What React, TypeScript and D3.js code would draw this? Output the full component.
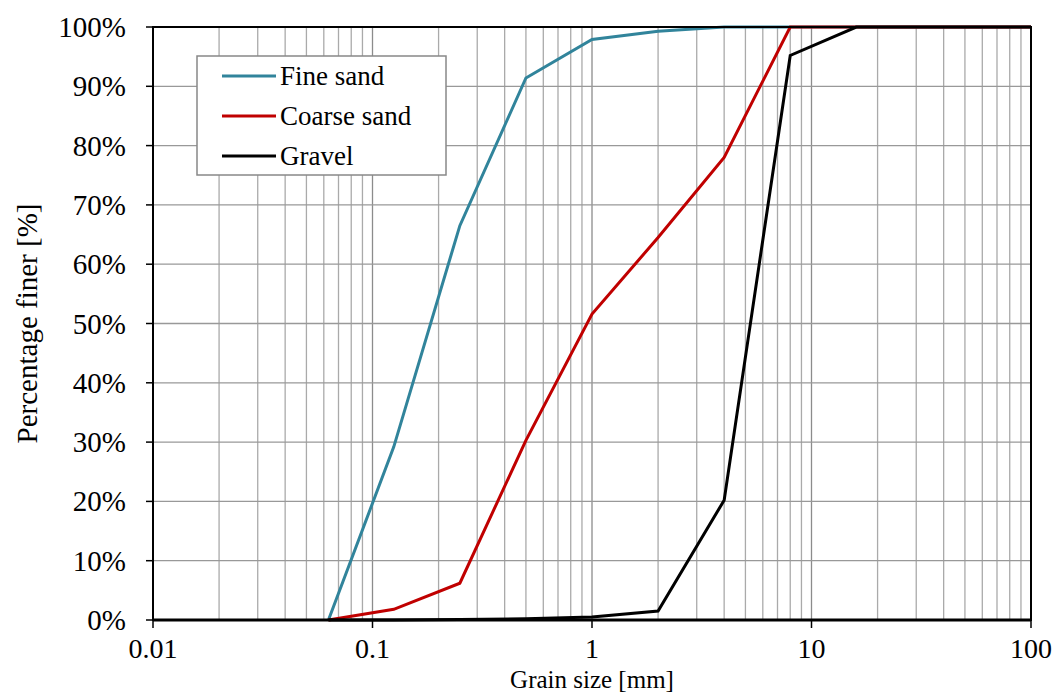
import React, { useEffect, useRef } from "react";
import * as d3 from "d3";

const sizes = [0.063, 0.125, 0.25, 0.5, 1, 2, 4, 8, 16, 31.5, 63, 100];
const fineSand = [0, 29.2, 66.5, 91.4, 97.9, 99.3, 100, 100, 100, 100, 100, 100];
const coarseSand = [0, 1.8, 6.2, 30.3, 51.6, 64.5, 78, 100, 100, 100, 100, 100];
const gravel = [0, 0, 0.1, 0.2, 0.5, 1.5, 20.2, 95.2, 100, 100, 100, 100];

const seriesNames = ["Fine sand", "Coarse sand", "Gravel"];
const seriesColors = ["#31849B", "#C00000", "#000000"];
const yTicks = [0, 10, 20, 30, 40, 50, 60, 70, 80, 90, 100];
const xTicks = [0.01, 0.1, 1, 10, 100];

const App = () => {
  const svgRef = useRef<SVGSVGElement>(null);

  useEffect(() => {
    const svg = d3.select(svgRef.current);
    svg.selectAll("*").remove();

    const width = 1059;
    const height = 695;
    const margin = { top: 27, right: 28, bottom: 75, left: 153 };
    const font = "Liberation Serif, Times New Roman, serif";

    const x = d3.scaleLog()
      .domain([0.01, 100])
      .range([margin.left, width - margin.right]);
    const y = d3.scaleLinear()
      .domain([0, 100])
      .range([height - margin.bottom, margin.top]);

    svg.attr("width", width).attr("height", height);

    // grid: minor + major verticals
    const minor: number[] = [];
    for (let e = -2; e < 2; e++) {
      for (let m = 1; m <= 9; m++) minor.push(m * Math.pow(10, e));
    }
    svg.append("g")
      .selectAll("line")
      .data(minor)
      .enter()
      .append("line")
      .attr("x1", d => x(d))
      .attr("x2", d => x(d))
      .attr("y1", y(0))
      .attr("y2", y(100))
      .attr("stroke", d => (Math.abs(Math.log10(d) % 1) < 1e-9 ? "#8c8c8c" : "#aaaaaa"))
      .attr("stroke-width", 1.3);

    svg.append("g")
      .selectAll("line")
      .data(yTicks)
      .enter()
      .append("line")
      .attr("x1", x(0.01))
      .attr("x2", x(100))
      .attr("y1", d => y(d))
      .attr("y2", d => y(d))
      .attr("stroke", "#999999")
      .attr("stroke-width", 1.3);

    // series
    const allSeries = [fineSand, coarseSand, gravel];
    const line = d3.line<number>()
      .x((_, i) => x(sizes[i]))
      .y(d => y(d));

    allSeries.forEach((s, i) => {
      svg.append("path")
        .datum(s)
        .attr("d", line)
        .attr("fill", "none")
        .attr("stroke", seriesColors[i])
        .attr("stroke-width", 3);
    });

    // plot border
    svg.append("rect")
      .attr("x", x(0.01))
      .attr("y", y(100))
      .attr("width", x(100) - x(0.01))
      .attr("height", y(0) - y(100))
      .attr("fill", "none")
      .attr("stroke", "#000")
      .attr("stroke-width", 2);
    svg.append("line")
      .attr("x1", x(0.01)).attr("x2", x(100))
      .attr("y1", y(0)).attr("y2", y(0))
      .attr("stroke", "#000").attr("stroke-width", 3);

    // y axis ticks + labels
    svg.append("g")
      .selectAll("line")
      .data(yTicks)
      .enter()
      .append("line")
      .attr("x1", x(0.01) - 7)
      .attr("x2", x(0.01))
      .attr("y1", d => y(d))
      .attr("y2", d => y(d))
      .attr("stroke", "#000")
      .attr("stroke-width", 1.5);
    svg.append("g")
      .selectAll("text")
      .data(yTicks)
      .enter()
      .append("text")
      .attr("x", 126)
      .attr("y", d => y(d) + 10)
      .attr("text-anchor", "end")
      .attr("font-family", font)
      .attr("font-size", 29)
      .text(d => d + "%");

    // x axis ticks + labels
    svg.append("g")
      .selectAll("line")
      .data(xTicks)
      .enter()
      .append("line")
      .attr("x1", d => x(d))
      .attr("x2", d => x(d))
      .attr("y1", y(0))
      .attr("y2", y(0) + 8)
      .attr("stroke", "#000")
      .attr("stroke-width", 1.5);
    svg.append("g")
      .selectAll("text")
      .data(xTicks)
      .enter()
      .append("text")
      .attr("x", d => x(d))
      .attr("y", 658)
      .attr("text-anchor", "middle")
      .attr("font-family", font)
      .attr("font-size", 28)
      .text(d => String(d));

    // axis titles
    svg.append("text")
      .attr("x", x(1))
      .attr("y", 688)
      .attr("text-anchor", "middle")
      .attr("font-family", font)
      .attr("font-size", 25)
      .text("Grain size [mm]");
    svg.append("text")
      .attr("transform", `translate(37, ${(y(0) + y(100)) / 2}) rotate(-90)`)
      .attr("text-anchor", "middle")
      .attr("font-family", font)
      .attr("font-size", 29)
      .text("Percentage finer [%]");

    // legend
    const legend = svg.append("g");
    legend.append("rect")
      .attr("x", 197)
      .attr("y", 56)
      .attr("width", 249)
      .attr("height", 119)
      .attr("fill", "#fff")
      .attr("stroke", "#888")
      .attr("stroke-width", 1.5);
    seriesNames.forEach((name, i) => {
      const ly = 76 + i * 40;
      legend.append("line")
        .attr("x1", 222).attr("x2", 276)
        .attr("y1", ly).attr("y2", ly)
        .attr("stroke", seriesColors[i])
        .attr("stroke-width", 3);
      legend.append("text")
        .attr("x", 280)
        .attr("y", ly + 9)
        .attr("font-family", font)
        .attr("font-size", 27)
        .text(name);
    });
  }, []);

  return <svg ref={svgRef} style={{ position: "absolute", left: 0, top: 0 }} />;
};

export default App;
